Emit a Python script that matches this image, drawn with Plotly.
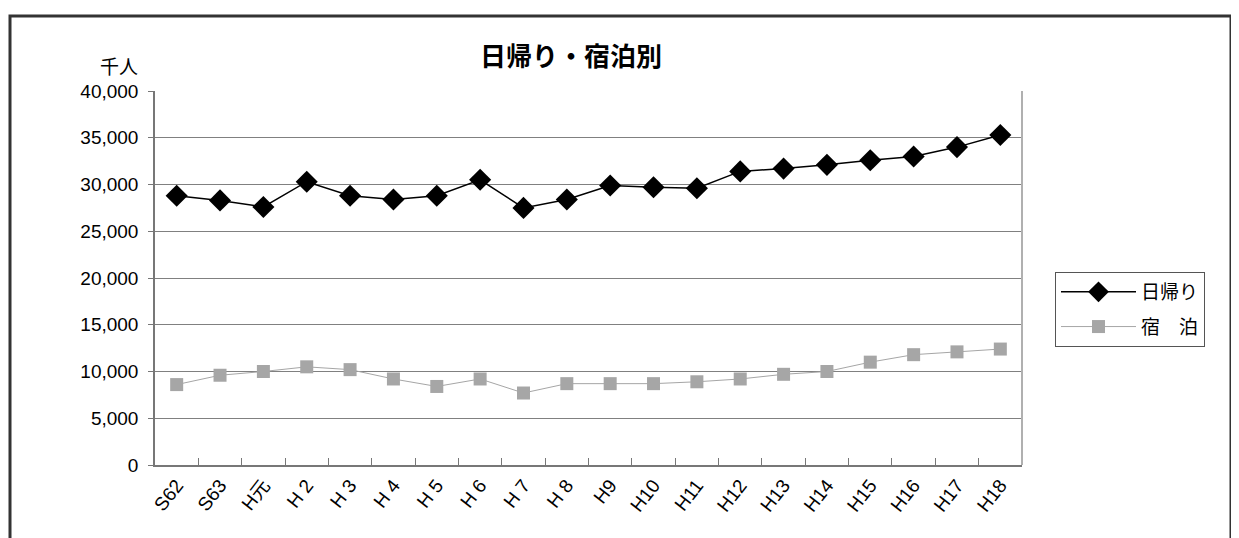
import plotly.graph_objects as go

categories = ["S62", "S63", "H元", "H 2", "H 3", "H 4", "H 5", "H 6", "H 7", "H 8",
              "H9", "H10", "H11", "H12", "H13", "H14", "H15", "H16", "H17", "H18"]
higaeri = [28800, 28300, 27600, 30300, 28800, 28400, 28800, 30500, 27500, 28400,
           29900, 29700, 29600, 31400, 31700, 32100, 32600, 33000, 34000, 35300]
shukuhaku = [8600, 9600, 10000, 10500, 10200, 9200, 8400, 9200, 7700, 8700,
             8700, 8700, 8900, 9200, 9700, 10000, 11000, 11800, 12100, 12400]
y_ticks = [0, 5000, 10000, 15000, 20000, 25000, 30000, 35000, 40000]
y_tick_text = ["0", "5,000", "10,000", "15,000", "20,000", "25,000", "30,000", "35,000", "40,000"]

FONT = "Liberation Sans, Arial, Noto Sans CJK JP, sans-serif"
JFONT = "Noto Sans CJK JP, sans-serif"

OFF = 8  # default page body margin
W, H = 1239 - OFF, 538 - OFF
PL, PR, PT, PB = 155, 1022, 91, 465  # plot area in screen pixels
L, R, T, B = PL - OFF, W - (PR - OFF), PT - OFF, H - (PB - OFF)
pw, ph = W - L - R, H - T - B

def px(xs):
    return (xs - OFF - L) / pw

def py(ys):
    return (H - B - (ys - OFF)) / ph

fig = go.Figure()
fig.add_trace(go.Scatter(
    x=categories, y=higaeri, name="日帰り", mode="lines+markers", legendgroup="a",
    line=dict(color="#000000", width=1.5),
    marker=dict(symbol="diamond", size=17, color="#000000"),
))
fig.add_trace(go.Scatter(
    x=categories, y=shukuhaku, name="宿　泊", mode="lines+markers", legendgroup="b",
    line=dict(color="#a6a6a6", width=1),
    marker=dict(symbol="square", size=13, color="#a6a6a6"),
))

fig.update_layout(
    width=W, height=H,
    margin=dict(l=L, r=R, t=T, b=B),
    paper_bgcolor="white", plot_bgcolor="white",
    font=dict(family=FONT, size=19, color="#000000"),
    showlegend=True,
    legend=dict(
        x=px(1055), y=py(272), xanchor="left", yanchor="top",
        bordercolor="#555555", borderwidth=1, bgcolor="white",
        font=dict(family=JFONT, size=19, color="#000000"),
        tracegroupgap=7, itemwidth=75,
    ),
    annotations=[
        dict(text="<b>日帰り・宿泊別</b>", x=px(571), y=py(54), xref="paper", yref="paper",
             showarrow=False, font=dict(family=JFONT, size=26, color="#000000"),
             xanchor="center", yanchor="middle"),
        dict(text="千人", x=px(140), y=py(66), xref="paper", yref="paper",
             showarrow=False, font=dict(family=JFONT, size=19, color="#000000"),
             xanchor="right", yanchor="middle"),
    ],
    shapes=[
        dict(type="rect", xref="paper", yref="paper",
             x0=px(10), x1=px(1231), y0=py(580), y1=py(16),
             line=dict(color="#333333", width=3), layer="above"),
        dict(type="line", xref="paper", yref="paper",
             x0=1, x1=1, y0=0, y1=1,
             line=dict(color="#b0b0b0", width=2)),
    ],
)

fig.update_xaxes(
    type="category", showgrid=False,
    showline=True, linecolor="#777777", linewidth=1.5,
    ticks="inside", ticklen=7, tickcolor="#777777", tickson="boundaries",
    tickangle=-52, tickfont=dict(family=FONT, size=19),
    range=[-0.5, len(categories) - 0.5],
)
fig.update_yaxes(
    range=[0, 40000], tickvals=y_ticks, ticktext=y_tick_text,
    showgrid=True, gridcolor="#808080", gridwidth=1,
    showline=True, linecolor="#777777", linewidth=1.5,
    ticks="outside", ticklen=5, tickcolor="#777777",
    ticklabelstandoff=6,
    tickfont=dict(family=FONT, size=19), zeroline=False,
)

fig.write_html("out.html")
